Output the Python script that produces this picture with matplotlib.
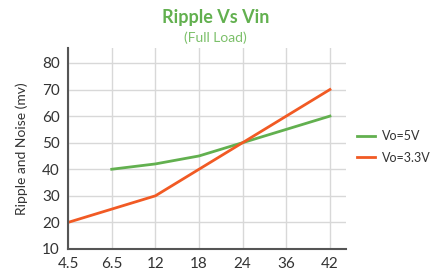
import matplotlib.pyplot as plt
import numpy as np

vin = ['4.5', '6.5', '12', '18', '24', '36', '42']
vo5 = [np.nan, 40, 42, 45, 50, 55, 60]
vo33 = [20, 25, 30, 40, 50, 60, 70]

plt.rcParams['font.family'] = ['Lato', 'DejaVu Sans']

fig = plt.figure(figsize=(4.31, 2.73), dpi=100)
ax = fig.add_axes([0.158, 0.088, 0.645, 0.736])

x = np.arange(len(vin))
ax.plot(x, vo5, color='#62b04f', lw=2, label='Vo=5V')
ax.plot(x, vo33, color='#f15a24', lw=2, label='Vo=3.3V')

ax.set_xlim(0, 6.37)
ax.set_ylim(10, 85.6)
ax.set_xticks(x)
ax.set_xticklabels(vin)
ax.set_yticks(range(10, 90, 10))
ax.grid(color='#d8d8d8', lw=1)
ax.set_axisbelow(True)
for s in ['top', 'right']:
    ax.spines[s].set_visible(False)
for s in ['left', 'bottom']:
    ax.spines[s].set_color('#555555')
    ax.spines[s].set_linewidth(1.5)
ax.tick_params(length=0, labelsize=11, colors='#333333', pad=6)
ax.set_ylabel('Ripple and Noise (mv)', fontsize=10, color='#333333', labelpad=10)

fig.text(0.5, 0.935, 'Ripple Vs Vin', ha='center', va='center', fontsize=13,
         fontweight='bold', color='#62b04f')
fig.text(0.5, 0.862, '(Full Load)', ha='center', va='center', fontsize=10,
         color='#7cc06a')

ax.legend(loc='center left', bbox_to_anchor=(1.04, 0.507), frameon=False,
          fontsize=9, handlelength=1.4, handletextpad=0.6, labelspacing=0.75,
          borderaxespad=0, borderpad=0, labelcolor='#333333')

fig.savefig('out.png', dpi=100)
